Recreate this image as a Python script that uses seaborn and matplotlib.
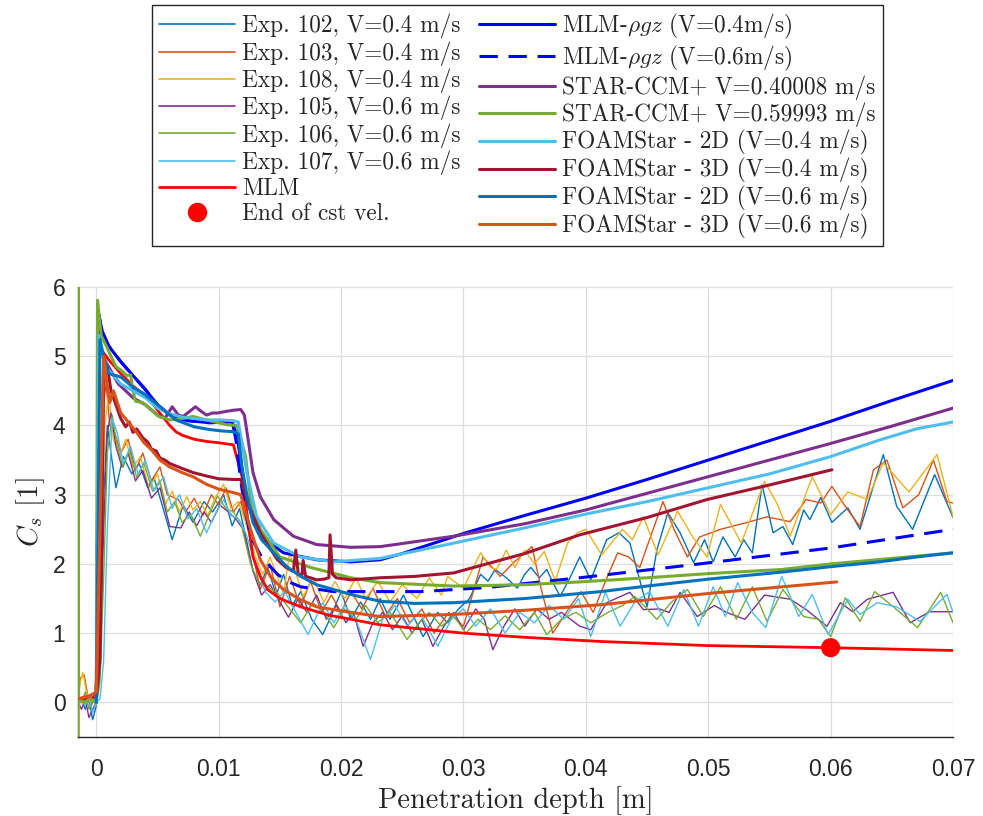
import seaborn as sns
import matplotlib.pyplot as plt
from matplotlib.lines import Line2D

# depth in mm (converted to m when drawn), Cs values
exp102 = [(-1.5, -0.05), (-1.2, 0.05), (-0.9, -0.1), (-0.6, 0.05), (-0.3, -0.25), (0.0, -0.05), (0.3, 0.8),
          (0.6, 3.0), (0.9, 4.0), (1.2, 3.6), (1.6, 3.1), (2.2, 3.55), (2.9, 3.3), (3.5, 3.45), (4.2, 3.1),
          (4.7, 3.25), (5.3, 2.9), (6.2, 2.35), (7.1, 2.85), (7.9, 2.6), (8.8, 2.9), (9.5, 2.75), (10.4, 3.0),
          (11.1, 2.55), (11.7, 2.8), (12.2, 2.4), (12.8, 1.9), (13.4, 1.7), (14.0, 1.95), (14.7, 1.55),
          (15.3, 1.85), (16.0, 1.4), (16.7, 1.6), (17.6, 1.2), (18.5, 0.98), (19.2, 1.25), (20.0, 1.6),
          (20.8, 1.2), (21.6, 1.45), (22.4, 1.2), (23.2, 1.5), (24.0, 1.2), (25.1, 1.55), (25.9, 1.25),
          (26.7, 0.95), (27.9, 1.3), (28.7, 1.15), (29.6, 1.35), (30.5, 1.5), (31.4, 1.85), (32.0, 1.75),
          (32.6, 1.92), (33.5, 1.8), (34.4, 1.65), (35.0, 1.85), (35.5, 1.95), (36.2, 1.8), (36.8, 1.92),
          (37.4, 1.7), (37.9, 1.53), (38.7, 1.8), (39.5, 2.1), (40.4, 1.77), (41.7, 2.35), (42.7, 2.45),
          (43.6, 2.3), (44.2, 1.9), (45.0, 1.38), (45.8, 2.2), (46.7, 2.74), (47.7, 2.45), (48.8, 2.02),
          (49.7, 2.35), (50.4, 2.03), (51.2, 2.39), (52.2, 2.1), (52.9, 2.35), (53.6, 2.16), (54.4, 3.14),
          (55.3, 2.45), (56.1, 2.54), (56.9, 2.28), (57.8, 2.78), (58.3, 2.64), (59.2, 2.96), (60.1, 2.6),
          (61.4, 2.81), (62.4, 2.5), (64.3, 3.58), (65.4, 2.83), (66.7, 2.5), (68.5, 3.29), (70.0, 2.67)]
exp103 = [(-1.5, 0.1), (-1.3, 0.35), (-1.0, 0.4), (-0.7, 0.1), (-0.4, -0.05), (-0.1, 0.1), (0.2, 1.5),
          (0.5, 4.2), (0.8, 4.6), (1.1, 4.0), (1.5, 3.9), (2.0, 3.6), (2.6, 3.8), (3.2, 3.35), (3.8, 3.6),
          (4.5, 3.2), (5.2, 3.4), (5.8, 3.0), (6.7, 2.93), (7.3, 2.75), (8.0, 2.95), (8.7, 2.7), (9.4, 3.0),
          (10.0, 2.85), (10.6, 3.1), (11.2, 2.75), (11.8, 2.9), (12.4, 2.5), (13.1, 1.88), (13.4, 1.63),
          (14.2, 2.0), (15.0, 1.38), (15.8, 1.82), (16.7, 1.38), (17.5, 1.75), (18.4, 1.3), (19.2, 1.55),
          (20.0, 1.3), (20.8, 1.6), (21.7, 1.35), (22.6, 1.65), (23.6, 1.25), (24.6, 1.5), (25.6, 1.15),
          (26.6, 1.35), (27.6, 1.0), (28.8, 1.3), (30.0, 1.1), (31.6, 2.1), (33.0, 1.82), (34.1, 2.02),
          (35.6, 2.25), (36.4, 1.6), (37.3, 1.0), (38.7, 1.38), (39.6, 1.6), (40.6, 1.3), (41.6, 1.75),
          (42.6, 2.16), (43.5, 2.1), (44.4, 1.95), (45.5, 2.5), (46.3, 2.9), (47.2, 2.5), (48.3, 2.1),
          (49.3, 2.39), (51.0, 2.5), (53.2, 2.6), (54.8, 2.68), (56.7, 2.61), (58.0, 2.93), (59.2, 2.88),
          (60.1, 3.12), (61.4, 2.78), (62.4, 2.54), (63.5, 3.36), (64.6, 3.5), (65.9, 2.81), (67.2, 3.0),
          (68.4, 3.5), (69.5, 2.9), (70.0, 2.88)]
exp108 = [(-1.5, 0.05), (-1.3, 0.3), (-1.1, 0.43), (-0.8, 0.15), (-0.5, 0.0), (-0.2, 0.1), (0.1, 0.2),
          (0.4, 2.0), (0.7, 4.0), (1.0, 4.47), (1.4, 3.8), (1.9, 3.55), (2.4, 3.8), (3.0, 3.4), (3.6, 3.55),
          (4.3, 3.1), (5.0, 3.3), (5.6, 2.85), (6.2, 3.05), (6.8, 2.75), (7.4, 2.97), (7.9, 2.78), (8.5, 2.9),
          (9.1, 2.7), (9.7, 2.95), (10.4, 3.15), (11.0, 2.8), (11.6, 2.9), (12.2, 2.6), (13.0, 2.1),
          (13.6, 1.85), (14.2, 2.1), (15.3, 1.58), (15.8, 2.16), (16.9, 1.53), (17.7, 1.8), (18.6, 1.45),
          (19.5, 1.75), (20.3, 1.5), (21.2, 1.8), (22.0, 1.5), (23.0, 1.75), (24.0, 1.45), (25.0, 1.7),
          (26.2, 1.5), (27.2, 1.8), (28.2, 1.55), (28.7, 1.82), (30.0, 1.65), (31.4, 2.16), (32.2, 1.95),
          (32.7, 1.92), (33.5, 2.2), (34.2, 1.95), (35.0, 2.2), (35.8, 2.0), (36.6, 2.18), (37.5, 1.75),
          (38.5, 2.3), (39.3, 2.45), (40.0, 2.5), (41.3, 2.13), (43.0, 2.5), (43.8, 2.35), (44.7, 2.68),
          (45.9, 2.13), (47.5, 2.76), (48.7, 2.4), (49.9, 2.1), (51.0, 2.86), (52.7, 2.3), (54.6, 3.19),
          (55.6, 2.88), (56.7, 2.4), (58.5, 3.26), (60.0, 2.71), (61.4, 3.04), (63.0, 2.93), (64.3, 3.46),
          (66.4, 3.04), (68.7, 3.58), (70.0, 2.68)]
exp105 = [(-1.5, 0.0), (-1.2, -0.1), (-0.9, 0.05), (-0.6, -0.22), (-0.3, -0.1), (0.0, 0.0), (0.3, 0.5),
          (0.6, 2.5), (0.9, 3.9), (1.2, 4.18), (1.6, 3.7), (2.1, 3.4), (2.6, 3.6), (3.2, 3.2), (3.8, 3.35),
          (4.5, 2.95), (5.2, 3.1), (6.0, 2.54), (6.9, 2.52), (7.6, 2.75), (8.2, 2.55), (8.8, 2.75), (9.4, 2.6),
          (10.1, 2.85), (10.8, 2.75), (11.4, 2.65), (12.0, 2.5), (12.8, 1.9), (13.5, 1.55), (14.2, 1.7),
          (15.0, 1.45), (15.7, 1.23), (16.5, 1.5), (17.2, 1.3), (18.0, 1.55), (18.8, 1.2), (19.6, 1.4),
          (20.4, 1.15), (21.0, 1.3), (21.8, 0.81), (22.6, 1.15), (23.4, 1.3), (24.2, 1.05), (25.0, 1.25),
          (25.8, 1.0), (26.6, 1.2), (27.5, 0.81), (28.4, 1.1), (29.2, 1.3), (30.0, 1.05), (31.0, 1.35),
          (31.7, 1.2), (32.4, 0.76), (33.3, 1.1), (34.2, 1.35), (35.0, 1.1), (36.0, 1.35), (37.0, 1.2),
          (38.0, 1.3), (39.5, 1.1), (40.4, 1.05), (41.7, 1.44), (43.6, 1.59), (44.7, 1.34), (46.0, 1.35),
          (46.8, 1.3), (47.7, 1.59), (49.1, 1.24), (50.5, 1.4), (51.5, 1.3), (53.0, 1.2), (54.6, 1.55),
          (56.7, 1.49), (58.0, 1.34), (59.7, 1.1), (60.8, 1.44), (61.8, 1.31), (63.0, 1.49), (65.1, 1.59),
          (66.5, 1.15), (68.1, 1.31), (70.0, 1.31)]
exp106 = [(-1.5, 0.05), (-1.2, 0.0), (-0.9, 0.15), (-0.6, -0.1), (-0.3, 0.05), (0.0, -0.05), (0.3, 0.3),
          (0.6, 1.8), (0.9, 3.6), (1.3, 4.15), (1.7, 3.7), (2.2, 3.4), (2.7, 3.65), (3.3, 3.25), (3.9, 3.45),
          (4.6, 3.05), (5.2, 3.2), (5.8, 2.75), (6.4, 2.9), (7.0, 2.6), (7.7, 2.72), (8.5, 2.4), (9.2, 2.7),
          (9.9, 2.98), (10.6, 2.8), (11.2, 2.75), (11.8, 2.6), (12.6, 2.0), (13.3, 1.72), (14.0, 1.67),
          (14.8, 1.58), (15.8, 1.35), (16.7, 1.15), (17.7, 1.44), (18.6, 1.3), (19.4, 1.08), (20.3, 1.35),
          (21.2, 1.2), (22.0, 1.4), (23.0, 1.15), (24.0, 1.3), (25.4, 0.91), (26.4, 1.15), (27.2, 1.3),
          (28.2, 1.1), (29.2, 1.25), (30.2, 1.0), (31.2, 1.2), (32.2, 1.05), (33.4, 1.25), (34.6, 1.05),
          (35.8, 1.3), (36.8, 0.98), (38.0, 1.2), (39.2, 1.3), (40.4, 1.15), (41.8, 1.3), (43.0, 1.4),
          (44.0, 1.53), (45.0, 1.35), (45.8, 1.2), (47.0, 1.45), (48.3, 1.63), (49.6, 1.24), (51.0, 1.67),
          (52.3, 1.2), (53.6, 1.67), (54.8, 1.17), (56.1, 1.63), (57.8, 1.24), (59.0, 1.2), (60.0, 0.95),
          (61.2, 1.51), (62.4, 1.17), (63.6, 1.6), (65.2, 1.37), (67.1, 1.08), (69.0, 1.59), (70.0, 1.15)]
exp107 = [(-1.5, -0.1), (-1.2, 0.05), (-0.9, -0.05), (-0.6, 0.1), (-0.3, -0.15), (0.0, 0.0), (0.3, 0.05),
          (0.6, 0.6), (0.9, 2.5), (1.3, 4.1), (1.7, 3.9), (2.2, 3.45), (2.8, 3.7), (3.4, 3.3), (4.0, 3.5),
          (4.7, 3.05), (5.5, 3.26), (6.2, 2.8), (6.8, 3.0), (7.5, 2.65), (8.2, 2.8), (9.0, 2.45), (9.8, 2.75),
          (10.4, 2.93), (11.0, 2.7), (11.6, 2.65), (12.2, 2.45), (13.0, 2.0), (13.8, 1.6), (14.6, 1.45),
          (15.4, 1.6), (16.3, 1.3), (17.3, 0.98), (18.5, 1.44), (19.4, 1.15), (20.3, 1.4), (21.2, 1.2),
          (22.4, 0.62), (23.4, 1.2), (24.4, 1.4), (25.4, 1.1), (26.4, 1.3), (27.9, 0.81), (29.0, 1.2),
          (30.0, 1.35), (31.0, 1.1), (32.2, 1.35), (33.4, 1.0), (34.6, 1.3), (35.8, 1.15), (37.0, 1.4),
          (38.2, 1.2), (39.4, 1.5), (40.4, 0.95), (41.6, 1.59), (42.8, 1.1), (44.0, 1.45), (45.2, 1.6),
          (46.7, 1.1), (48.0, 1.63), (49.2, 1.1), (50.4, 1.67), (51.4, 1.24), (52.4, 1.73), (53.6, 1.3),
          (54.7, 1.08), (56.0, 1.82), (57.4, 1.24), (58.5, 1.56), (59.8, 0.98), (61.4, 1.49), (62.4, 1.27),
          (63.8, 1.44), (65.4, 1.38), (67.3, 1.17), (69.5, 1.56), (70.0, 1.3)]

mlm = [(-1.5, 0.05), (-0.5, 0.05), (0.0, 0.1), (0.3, 2.5), (0.6, 5.05), (1.0, 4.95), (2.0, 4.75), (3.0, 4.57),
       (4.4, 4.37), (5.0, 4.22), (6.0, 4.0), (6.5, 3.91), (7.0, 3.86), (8.0, 3.8), (9.0, 3.77), (10.0, 3.75),
       (11.2, 3.72), (12.0, 3.2), (12.4, 2.6), (12.8, 2.1), (13.4, 1.82), (14.0, 1.63), (15.0, 1.5),
       (16.7, 1.38), (19.0, 1.26), (23.2, 1.12), (30.0, 1.0), (35.0, 0.94), (41.2, 0.88), (50.0, 0.82),
       (60.0, 0.79), (70.0, 0.75)]
end_cst_vel = (60.0, 0.79)
mlm_rgz_04 = [(0.0, 0.0), (0.2, 5.6), (0.5, 5.35), (1.0, 5.15), (2.0, 4.92), (3.0, 4.72), (4.0, 4.52),
              (5.0, 4.3), (6.0, 4.15), (6.5, 4.11), (7.5, 4.07), (9.2, 4.04), (11.1, 4.05), (11.5, 3.84),
              (11.8, 3.5), (12.2, 3.0), (12.7, 2.7), (13.4, 2.4), (15.3, 2.16), (18.0, 2.06), (20.8, 2.03),
              (23.2, 2.06), (25.0, 2.15), (30.0, 2.44), (35.0, 2.7), (40.0, 2.95), (45.0, 3.22), (50.0, 3.5),
              (55.0, 3.78), (60.0, 4.06), (65.0, 4.36), (70.0, 4.65)]
mlm_rgz_06 = [(0.0, 0.0), (0.2, 5.6), (0.5, 5.35), (1.0, 5.15), (2.0, 4.92), (3.0, 4.72), (4.0, 4.52),
              (5.0, 4.3), (6.0, 4.15), (6.5, 4.11), (7.5, 4.07), (9.2, 4.04), (11.1, 4.05), (11.4, 3.8),
              (11.8, 3.2), (12.2, 2.75), (12.6, 2.4), (13.5, 2.1), (14.8, 1.85), (15.6, 1.75), (16.7, 1.67),
              (19.4, 1.6), (21.0, 1.6), (26.5, 1.6), (32.0, 1.66), (39.5, 1.8), (48.8, 1.99), (60.0, 2.23),
              (70.0, 2.5)]
star_04 = [(0.0, 0.0), (0.2, 5.3), (0.5, 5.0), (1.0, 4.85), (1.8, 4.6), (3.0, 4.4), (4.0, 4.3), (5.0, 4.15),
           (5.6, 4.1), (6.2, 4.27), (6.7, 4.15), (7.1, 4.13), (7.6, 4.2), (8.1, 4.27), (8.6, 4.2), (9.0, 4.15),
           (9.5, 4.18), (9.9, 4.18), (10.5, 4.2), (11.2, 4.22), (11.8, 4.23), (12.1, 4.15), (12.4, 3.8),
           (12.8, 3.32), (13.4, 2.97), (14.5, 2.64), (16.1, 2.4), (18.0, 2.28), (20.8, 2.24), (23.2, 2.25),
           (29.2, 2.4), (35.0, 2.58), (40.0, 2.78), (45.0, 3.02), (50.0, 3.26), (55.0, 3.5), (60.0, 3.74),
           (65.0, 3.99), (70.0, 4.25)]
star_06 = [(-1.48, -0.6), (-1.48, 6.3), (-1.45, 0.05), (-1.0, 0.0), (-0.5, 0.05), (0.0, 0.0), (0.1, 5.81),
           (0.4, 5.3), (0.7, 5.19), (1.2, 5.0), (1.6, 4.85), (2.0, 4.8), (2.5, 4.72), (2.8, 4.73), (3.0, 4.5),
           (3.2, 4.35), (3.8, 4.33), (5.1, 4.13), (6.0, 4.08), (7.0, 4.1), (7.9, 4.13), (9.0, 4.08), (10.7, 4.01),
           (11.5, 4.0), (12.2, 3.55), (12.6, 2.93), (13.4, 2.5), (15.0, 2.1), (17.5, 1.95), (20.8, 1.8),
           (23.2, 1.73), (29.2, 1.68), (35.0, 1.7), (39.5, 1.74), (45.0, 1.8), (50.0, 1.86), (56.0, 1.92),
           (60.0, 2.0), (70.0, 2.16)]
foam2d_04 = [(0.0, 0.0), (0.2, 5.3), (0.5, 5.0), (1.0, 4.8), (2.0, 4.6), (3.0, 4.5), (4.0, 4.4), (5.0, 4.25),
             (6.0, 4.17), (7.0, 4.12), (8.0, 4.1), (9.0, 4.08), (10.0, 4.08), (11.1, 4.07), (11.6, 4.05),
             (12.3, 3.32), (13.1, 2.68), (14.5, 2.3), (16.7, 2.1), (19.4, 2.03), (23.2, 2.08), (29.2, 2.3),
             (35.0, 2.52), (40.0, 2.72), (45.0, 2.9), (50.0, 3.1), (55.0, 3.3), (60.0, 3.55), (64.0, 3.79),
             (67.0, 3.95), (70.0, 4.05)]
foam3d_04 = [(0.0, 0.05), (0.3, 0.6), (0.6, 4.6), (0.9, 4.85), (1.2, 4.5), (1.6, 4.3), (2.0, 4.1), (2.4, 3.98),
             (2.7, 4.05), (3.0, 3.9), (3.3, 3.95), (3.8, 3.82), (4.2, 3.76), (4.5, 3.66), (4.9, 3.63), (5.2, 3.53),
             (5.6, 3.5), (6.0, 3.45), (7.0, 3.38), (7.9, 3.32), (9.0, 3.27), (10.0, 3.23), (11.2, 3.22),
             (11.8, 3.22), (12.3, 2.93), (12.8, 2.7), (13.4, 2.45), (14.1, 2.25), (14.8, 2.06), (15.5, 1.95),
             (16.1, 1.89), (16.3, 2.2), (16.5, 1.85), (16.8, 1.84), (16.9, 2.05), (17.1, 1.82), (17.5, 1.8),
             (18.0, 1.77), (18.6, 1.78), (19.0, 1.8), (19.1, 2.42), (19.3, 1.85), (19.6, 1.8), (20.8, 1.77),
             (23.2, 1.8), (26.0, 1.82), (29.2, 1.87), (35.0, 2.15), (39.5, 2.42), (45.0, 2.67), (49.9, 2.93),
             (55.0, 3.14), (60.1, 3.36)]
foam2d_06 = [(0.0, 0.0), (0.3, 5.24), (0.6, 5.0), (1.0, 4.75), (2.0, 4.7), (3.0, 4.55), (3.8, 4.47), (5.0, 4.3),
             (6.5, 4.08), (8.0, 3.98), (9.3, 3.94), (10.3, 3.92), (11.2, 3.91), (11.6, 3.88), (11.9, 3.4),
             (12.3, 3.0), (12.8, 2.6), (13.5, 2.35), (14.5, 2.16), (15.5, 1.97), (16.7, 1.82), (18.0, 1.7),
             (19.4, 1.63), (21.0, 1.55), (23.2, 1.46), (26.0, 1.43), (29.2, 1.44), (35.0, 1.5), (41.2, 1.6),
             (45.0, 1.68), (50.0, 1.78), (55.9, 1.88), (60.0, 1.96), (64.0, 2.03), (67.0, 2.1), (70.0, 2.16)]
foam3d_06 = [(-1.5, 0.05), (-0.5, 0.1), (0.0, 0.15), (0.3, 2.5), (0.6, 5.0), (0.8, 4.7), (1.1, 4.33), (1.4, 4.5),
             (2.0, 4.18), (2.6, 4.05), (3.3, 3.9), (3.9, 3.75), (4.5, 3.65), (5.2, 3.5), (6.0, 3.4), (7.0, 3.32),
             (7.9, 3.26), (9.0, 3.15), (10.0, 3.08), (11.2, 3.03), (11.8, 3.0), (12.6, 2.5), (13.4, 2.06),
             (14.3, 1.8), (15.3, 1.63), (16.5, 1.5), (18.0, 1.38), (20.8, 1.3), (23.2, 1.24), (29.2, 1.27),
             (35.0, 1.33), (41.2, 1.41), (50.4, 1.58), (60.5, 1.74)]

x_ticks = [0, 0.01, 0.02, 0.03, 0.04, 0.05, 0.06, 0.07]
x_ticklabels = ['0', '0.01', '0.02', '0.03', '0.04', '0.05', '0.06', '0.07']
y_ticks = [0, 1, 2, 3, 4, 5, 6]

thin = [
    (exp102, '#0072BD', 'Exp. 102, V=0.4 m/s'),
    (exp103, '#D95319', 'Exp. 103, V=0.4 m/s'),
    (exp108, '#EDB120', 'Exp. 108, V=0.4 m/s'),
    (exp105, '#7E2F8E', 'Exp. 105, V=0.6 m/s'),
    (exp106, '#77AC30', 'Exp. 106, V=0.6 m/s'),
    (exp107, '#4DBEEE', 'Exp. 107, V=0.6 m/s'),
]
thick = [
    (mlm_rgz_04, '#0000FF', '-', r'MLM-$\rho g z$ (V=0.4m/s)'),
    (mlm_rgz_06, '#0000FF', (0, (6, 3.5)), r'MLM-$\rho g z$ (V=0.6m/s)'),
    (star_04, '#7E2F8E', '-', 'STAR-CCM+ V=0.40008 m/s'),
    (star_06, '#77AC30', '-', 'STAR-CCM+ V=0.59993 m/s'),
    (foam2d_04, '#4DBEEE', '-', 'FOAMStar - 2D (V=0.4 m/s)'),
    (foam3d_04, '#A2142F', '-', 'FOAMStar - 3D (V=0.4 m/s)'),
    (foam2d_06, '#0072BD', '-', 'FOAMStar - 2D (V=0.6 m/s)'),
    (foam3d_06, '#D95319', '-', 'FOAMStar - 3D (V=0.6 m/s)'),
]

sns.set_theme(style='white')
plt.rcParams['font.family'] = ['cmr10', 'DejaVu Serif']
plt.rcParams['mathtext.fontset'] = 'cm'
plt.rcParams['axes.formatter.use_mathtext'] = True

fig = plt.figure(figsize=(9.83, 8.16), dpi=100)
ax = fig.add_axes([0.0793, 0.0968, 0.8902, 0.5515])


def xy(pts):
    return [p[0] / 1000 for p in pts], [p[1] for p in pts]


handles = []
for pts, col, lab in thin:
    x, y = xy(pts)
    sns.lineplot(x=x, y=y, ax=ax, color=col, lw=1.0, sort=False, estimator=None)
    handles.append(Line2D([], [], color=col, lw=1.2, label=lab))

x, y = xy(mlm)
sns.lineplot(x=x, y=y, ax=ax, color='#FF0000', lw=2.0, sort=False, estimator=None)
handles.append(Line2D([], [], color='#FF0000', lw=2.0, label='MLM'))
handles.append(Line2D([], [], color='#FF0000', ls='none', marker='o', ms=13, label='End of cst vel.'))

for pts, col, ls, lab in thick:
    x, y = xy(pts)
    sns.lineplot(x=x, y=y, ax=ax, color=col, lw=2.2, linestyle=ls, sort=False, estimator=None)
    handles.append(Line2D([], [], color=col, lw=2.2, linestyle=ls, label=lab))

sns.scatterplot(x=[end_cst_vel[0] / 1000], y=[end_cst_vel[1]], ax=ax, color='#FF0000', s=190,
                edgecolor='none', zorder=5)

ax.set_xlim(-0.0015, 0.07)
ax.set_ylim(-0.5, 6)
ax.set_xticks(x_ticks)
ax.set_xticklabels(x_ticklabels)
ax.set_yticks(y_ticks)
ax.set_yticklabels([str(v) for v in y_ticks])
ax.grid(True, color='#dedede', lw=0.9)
ax.set_axisbelow(True)
for s in ['top', 'right']:
    ax.spines[s].set_visible(False)
for s in ['left', 'bottom']:
    ax.spines[s].set_color('#262626')
    ax.spines[s].set_linewidth(1.0)
ax.spines['left'].set_zorder(1)
ax.tick_params(direction='in', length=5, color='#262626', labelcolor='#262626', labelsize=16.5,
               labelfontfamily='Liberation Sans')
ax.tick_params(axis='x', pad=15)
ax.tick_params(axis='y', pad=9)
ax.set_xlabel('Penetration depth [m]', fontsize=20.5, color='#262626', labelpad=4)
ax.set_ylabel(r'$C_s$ [1]', fontsize=20.5, color='#262626', labelpad=4)

leg = fig.legend(handles=handles, ncol=2, loc='upper center', bbox_to_anchor=(0.5265, 0.994),
                 fontsize=16.8, handlelength=3.25, handletextpad=0.3, columnspacing=0.8,
                 labelspacing=0.12, borderpad=0.3, borderaxespad=0, frameon=True, fancybox=False,
                 framealpha=1, edgecolor='#262626')
leg.get_frame().set_linewidth(1.0)

fig.savefig('out.png', dpi=100)
